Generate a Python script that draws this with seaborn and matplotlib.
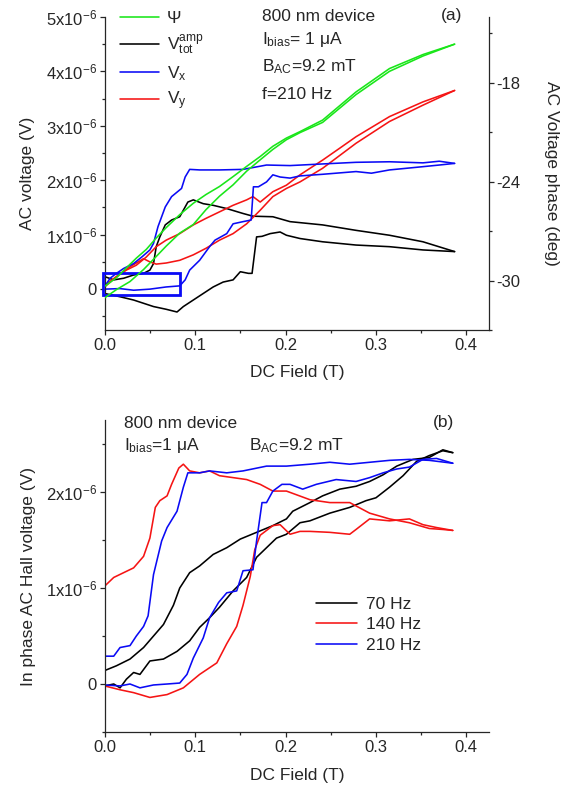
import matplotlib
matplotlib.use("Agg")
import matplotlib.pyplot as plt
import pandas as pd
import seaborn as sns
from matplotlib.lines import Line2D
from matplotlib.patches import Rectangle
from matplotlib.ticker import MultipleLocator, FixedLocator

# ---------------- data, panel (a): 210 Hz, voltages in 1e-6 V ----------------
vx_up_x = [0, 0.017, 0.032, 0.05, 0.068, 0.083, 0.089, 0.094, 0.105, 0.116, 0.122, 0.135, 0.142, 0.153,
           0.162, 0.1645, 0.17, 0.179, 0.186, 0.194, 0.205, 0.216, 0.241, 0.278, 0.295, 0.315, 0.352, 0.37, 0.387]
vx_up_y = [0, 0.01, -0.02, 0, 0.04, 0.06, 0.17, 0.35, 0.53, 0.78, 0.9, 1.02, 1.2, 1.24,
           1.27, 1.88, 1.88, 1.97, 2.1, 2.06, 2.04, 2.08, 2.11, 2.16, 2.13, 2.19, 2.25, 2.28, 2.31]
vx_dn_x = [0, 0.006, 0.013, 0.021, 0.032, 0.041, 0.05, 0.054, 0.059, 0.067, 0.074, 0.085, 0.089, 0.094,
           0.105, 0.127, 0.153, 0.179, 0.205, 0.241, 0.278, 0.315, 0.352, 0.37, 0.387]
vx_dn_y = [0.05, 0.2, 0.29, 0.38, 0.47, 0.59, 0.72, 0.84, 1.15, 1.51, 1.7, 1.85, 2.06, 2.2,
           2.19, 2.19, 2.2, 2.28, 2.27, 2.3, 2.33, 2.34, 2.32, 2.35, 2.31]

vtot_dn_x = [0, 0.01, 0.021, 0.032, 0.043, 0.05, 0.054, 0.057, 0.061, 0.067, 0.074, 0.083, 0.092, 0.098,
             0.109, 0.12, 0.135, 0.153, 0.164, 0.186, 0.205, 0.241, 0.278, 0.315, 0.352, 0.387]
vtot_dn_y = [0.23, 0.17, 0.2, 0.26, 0.29, 0.35, 0.47, 0.78, 0.96, 1.18, 1.27, 1.33, 1.6, 1.64,
             1.57, 1.54, 1.48, 1.39, 1.34, 1.33, 1.24, 1.18, 1.08, 0.99, 0.87, 0.69]
vtot_up_x = [0, 0.017, 0.032, 0.043, 0.054, 0.068, 0.08, 0.087, 0.098, 0.109, 0.12, 0.131, 0.142, 0.15,
             0.159, 0.163, 0.168, 0.174, 0.183, 0.194, 0.201, 0.216, 0.241, 0.278, 0.315, 0.352, 0.387]
vtot_up_y = [-0.08, -0.14, -0.2, -0.26, -0.32, -0.37, -0.42, -0.32, -0.2, -0.08, 0.04, 0.13, 0.17, 0.32,
             0.29, 0.29, 0.96, 0.97, 1.02, 1.05, 0.99, 0.93, 0.87, 0.81, 0.78, 0.72, 0.69]

vy_dn_x = [0, 0.013, 0.024, 0.035, 0.046, 0.057, 0.068, 0.083, 0.098, 0.112, 0.127, 0.142, 0.157, 0.164,
           0.172, 0.186, 0.201, 0.216, 0.241, 0.26, 0.278, 0.315, 0.352, 0.387]
vy_dn_y = [0.07, 0.23, 0.35, 0.44, 0.59, 0.78, 0.9, 1.02, 1.18, 1.3, 1.42, 1.54, 1.64, 1.7,
           1.6, 1.79, 1.91, 2.1, 2.37, 2.59, 2.8, 3.17, 3.44, 3.65]
vy_up_x = [0, 0.013, 0.028, 0.043, 0.05, 0.057, 0.068, 0.083, 0.098, 0.112, 0.127, 0.142, 0.157, 0.172,
           0.186, 0.201, 0.216, 0.241, 0.278, 0.315, 0.352, 0.387]
vy_up_y = [0.04, 0.23, 0.41, 0.56, 0.5, 0.46, 0.48, 0.53, 0.63, 0.75, 0.9, 1.02, 1.2, 1.45,
           1.7, 1.85, 1.97, 2.22, 2.68, 3.08, 3.38, 3.65]

# phase Psi in degrees (right axis)
psi_a_x = [0, 0.013, 0.024, 0.035, 0.046, 0.057, 0.068, 0.083, 0.098, 0.112, 0.127, 0.142, 0.157, 0.172,
           0.186, 0.201, 0.216, 0.241, 0.278, 0.315, 0.352, 0.387]
psi_a_y = [-30.35, -29.83, -29.23, -28.64, -28.11, -27.42, -26.79, -26.0, -25.31, -24.78, -24.29, -23.69,
           -23.07, -22.47, -21.85, -21.35, -20.96, -20.26, -18.55, -17.13, -16.28, -15.65]
psi_b_x = [0, 0.013, 0.028, 0.043, 0.057, 0.068, 0.083, 0.098, 0.112, 0.127, 0.142, 0.157, 0.172, 0.186,
           0.201, 0.216, 0.241, 0.278, 0.315, 0.352, 0.387]
psi_b_y = [-31.05, -30.55, -30.06, -29.33, -28.54, -27.91, -27.12, -26.6, -25.7, -24.88, -24.19, -23.36,
           -22.67, -22.04, -21.45, -21.02, -20.4, -18.71, -17.3, -16.37, -15.65]

# ---------------- data, panel (b): in-phase Hall voltage, 1e-6 V ----------------
h70_dn_x = [0, 0.013, 0.028, 0.043, 0.054, 0.065, 0.076, 0.083, 0.094, 0.105, 0.12, 0.135, 0.15, 0.168,
            0.186, 0.201, 0.208, 0.227, 0.241, 0.26, 0.278, 0.293, 0.308, 0.323, 0.341, 0.359, 0.374, 0.385]
h70_dn_y = [0.14, 0.19, 0.26, 0.38, 0.5, 0.62, 0.82, 1.0, 1.16, 1.23, 1.35, 1.42, 1.51, 1.58,
            1.65, 1.72, 1.8, 1.89, 1.96, 2.03, 2.06, 2.11, 2.18, 2.27, 2.34, 2.36, 2.44, 2.41]
h70_up_x = [0, 0.01, 0.017, 0.024, 0.032, 0.039, 0.05, 0.065, 0.08, 0.094, 0.105, 0.116, 0.127, 0.142,
            0.157, 0.168, 0.179, 0.19, 0.201, 0.216, 0.227, 0.249, 0.271, 0.289, 0.3, 0.315, 0.33, 0.345,
            0.359, 0.374, 0.385]
h70_up_y = [-0.02, 0, -0.04, 0.05, 0.12, 0.1, 0.24, 0.26, 0.34, 0.45, 0.59, 0.69, 0.8, 0.97,
            1.11, 1.32, 1.42, 1.52, 1.56, 1.68, 1.7, 1.78, 1.84, 1.91, 1.94, 2.05, 2.17, 2.32,
            2.38, 2.43, 2.41]

h140_dn_x = [0, 0.01, 0.021, 0.032, 0.043, 0.05, 0.056, 0.061, 0.069, 0.074, 0.082, 0.087, 0.094, 0.105,
             0.116, 0.127, 0.142, 0.157, 0.172, 0.186, 0.201, 0.227, 0.249, 0.271, 0.293, 0.315, 0.337,
             0.359, 0.374, 0.385]
h140_dn_y = [1.02, 1.11, 1.16, 1.21, 1.33, 1.52, 1.84, 1.91, 1.96, 2.08, 2.25, 2.29, 2.22, 2.2,
             2.22, 2.17, 2.15, 2.13, 2.08, 2.01, 2.01, 1.92, 1.89, 1.89, 1.78, 1.72, 1.68,
             1.62, 1.61, 1.6]
h140_up_x = [0, 0.017, 0.032, 0.05, 0.069, 0.087, 0.105, 0.124, 0.135, 0.146, 0.153, 0.161, 0.166, 0.172,
             0.186, 0.194, 0.205, 0.216, 0.227, 0.249, 0.271, 0.278, 0.293, 0.315, 0.337, 0.352, 0.367, 0.385]
h140_up_y = [-0.02, -0.06, -0.09, -0.14, -0.11, -0.04, 0.1, 0.22, 0.42, 0.6, 0.82, 1.12, 1.4, 1.55,
             1.65, 1.66, 1.56, 1.59, 1.59, 1.58, 1.56, 1.61, 1.72, 1.7, 1.72, 1.66, 1.63, 1.6]

h210_dn_x = [0, 0.01, 0.017, 0.028, 0.035, 0.043, 0.048, 0.054, 0.063, 0.069, 0.08, 0.087, 0.092, 0.105,
             0.116, 0.135, 0.153, 0.179, 0.201, 0.227, 0.249, 0.271, 0.293, 0.315, 0.337, 0.359, 0.385]
h210_dn_y = [0.29, 0.29, 0.38, 0.4, 0.5, 0.6, 0.71, 1.14, 1.49, 1.63, 1.8, 2.05, 2.2, 2.2,
             2.22, 2.2, 2.22, 2.27, 2.27, 2.29, 2.31, 2.29, 2.31, 2.33, 2.34, 2.33, 2.3]
h210_up_x = [0, 0.017, 0.028, 0.039, 0.054, 0.069, 0.083, 0.091, 0.098, 0.109, 0.116, 0.126, 0.135, 0.146,
             0.153, 0.164, 0.168, 0.174, 0.179, 0.186, 0.196, 0.205, 0.219, 0.234, 0.256, 0.278, 0.293,
             0.308, 0.323, 0.337, 0.352, 0.367, 0.385]
h210_up_y = [-0.01, -0.02, 0, -0.04, -0.01, 0, 0.01, 0.1, 0.27, 0.48, 0.69, 0.85, 0.95, 0.97,
             1.18, 1.19, 1.49, 1.89, 1.89, 2.01, 2.08, 2.08, 2.03, 2.08, 2.13, 2.11, 2.15,
             2.2, 2.24, 2.26, 2.34, 2.35, 2.3]

GREEN, BLACK, BLUE, RED = "#19e619", "black", "#0a0af5", "#f51414"
LW = 1.15

sns.set_style("ticks")
plt.rcParams["font.family"] = ["Liberation Sans", "DejaVu Sans"]
plt.rcParams.update({
    "mathtext.fontset": "custom",
    "mathtext.rm": "Liberation Sans",
    "mathtext.it": "Liberation Sans:italic",
    "mathtext.bf": "Liberation Sans:bold",
    "axes.unicode_minus": False,
    "axes.linewidth": 0.9,
    "xtick.major.size": 3.5, "ytick.major.size": 3.5,
    "xtick.minor.size": 2.2, "ytick.minor.size": 2.2,
    "xtick.major.width": 0.9, "ytick.major.width": 0.9,
    "xtick.minor.width": 0.9, "ytick.minor.width": 0.9,
    "xtick.major.pad": 2.5, "ytick.major.pad": 2.0,
})
FS = 12.5


def branch(ax, xs, ys, color):
    sns.lineplot(x=xs, y=ys, sort=False, estimator=None, color=color, lw=LW, ax=ax)


def volt_ticks(ax, majors, minors):
    ax.yaxis.set_major_locator(FixedLocator(majors))
    ax.yaxis.set_minor_locator(FixedLocator(minors))
    labels = ["0" if v == 0 else f"{v:g}x10$^{{-6}}$" for v in majors]
    ax.set_yticklabels(labels, fontsize=12)


def field_axis(ax):
    ax.set_xlim(0, 0.425)
    ax.xaxis.set_major_locator(MultipleLocator(0.1))
    ax.xaxis.set_minor_locator(MultipleLocator(0.05))
    ax.set_xticks([0, 0.1, 0.2, 0.3, 0.4])
    ax.set_xticklabels(["0.0", "0.1", "0.2", "0.3", "0.4"], fontsize=12)
    ax.set_xlabel("DC Field (T)", fontsize=FS, va="center")
    ax.xaxis.set_label_coords(0.5, -0.137)


fig = plt.figure(figsize=(5.61, 7.86), dpi=100)

# ---------------- panel (a) ----------------
ax1 = fig.add_axes([0.1866, 0.5802, 0.685, 0.3982])
ax2 = ax1.twinx()

branch(ax1, vtot_dn_x, vtot_dn_y, BLACK)
branch(ax1, vtot_up_x, vtot_up_y, BLACK)
branch(ax1, vy_dn_x, vy_dn_y, RED)
branch(ax1, vy_up_x, vy_up_y, RED)
branch(ax1, vx_dn_x, vx_dn_y, BLUE)
branch(ax1, vx_up_x, vx_up_y, BLUE)
branch(ax2, psi_a_x, psi_a_y, GREEN)
branch(ax2, psi_b_x, psi_b_y, GREEN)

ax1.set_ylim(-0.75, 5.0)
ax2.set_ylim(-33, -14)
field_axis(ax1)
volt_ticks(ax1, [0, 1, 2, 3, 4, 5], [-0.5, 0.5, 1.5, 2.5, 3.5, 4.5])
ax1.set_ylabel("AC voltage (V)", fontsize=FS, va="center")
ax1.yaxis.set_label_coords(-0.2, 0.5)

ax2.yaxis.set_major_locator(FixedLocator([-30, -24, -18]))
ax2.yaxis.set_minor_locator(FixedLocator([-33, -27, -21, -15]))
ax2.set_yticklabels(["-30", "-24", "-18"], fontsize=12)
ax2.set_ylabel("AC Voltage phase (deg)", fontsize=FS, rotation=270, va="center")
ax2.yaxis.set_label_coords(1.163, 0.5)

for s in ["top", "right"]:
    ax1.spines[s].set_visible(False)
for s in ["top", "left", "bottom"]:
    ax2.spines[s].set_visible(False)

ax1.add_patch(Rectangle((-0.0015, -0.11), 0.0847, 0.40, fill=False, ec=BLUE, lw=2.0, clip_on=False, zorder=5))

handles_a = [Line2D([], [], color=c, lw=LW) for c in [GREEN, BLACK, BLUE, RED]]
labels_a = ["Ψ", r"V$_{\rm tot}^{\rm amp}$", r"V$_{\rm x}$", r"V$_{\rm y}$"]
ax1.legend(handles_a, labels_a, loc="upper left", bbox_to_anchor=(0.04, 1.018), frameon=False,
           fontsize=FS, handlelength=2.25, handletextpad=0.45, labelspacing=0.4, borderpad=0,
           borderaxespad=0)

tkw = dict(transform=ax1.transAxes, fontsize=FS, va="baseline", ha="left")
ax1.text(0.409, 0.987, "800 nm device", **tkw)
ax1.text(0.409, 0.913, r"I$_{\rm bias}$= 1 μA", **tkw)
ax1.text(0.409, 0.825, r"B$_{\rm AC}$=9.2 mT", **tkw)
ax1.text(0.409, 0.738, "f=210 Hz", **tkw)
ax1.text(0.875, 0.99, "(a)", **tkw)

# ---------------- panel (b) ----------------
ax3 = fig.add_axes([0.1866, 0.0687, 0.685, 0.3969])
branch(ax3, h70_dn_x, h70_dn_y, BLACK)
branch(ax3, h70_up_x, h70_up_y, BLACK)
branch(ax3, h140_dn_x, h140_dn_y, RED)
branch(ax3, h140_up_x, h140_up_y, RED)
branch(ax3, h210_dn_x, h210_dn_y, BLUE)
branch(ax3, h210_up_x, h210_up_y, BLUE)

ax3.set_ylim(-0.5, 2.75)
field_axis(ax3)
ax3.xaxis.set_label_coords(0.5, -0.138)
volt_ticks(ax3, [0, 1, 2], [-0.5, 0.5, 1.5, 2.5])
ax3.set_ylabel("In phase AC Hall voltage (V)", fontsize=FS, va="center")
ax3.yaxis.set_label_coords(-0.198, 0.5)
sns.despine(ax=ax3)

handles_b = [Line2D([], [], color=c, lw=LW) for c in [BLACK, RED, BLUE]]
ax3.legend(handles_b, ["70 Hz", "140 Hz", "210 Hz"], loc="upper left", bbox_to_anchor=(0.55, 0.434),
           frameon=False, fontsize=FS, handlelength=2.35, handletextpad=0.5, labelspacing=0.32,
           borderpad=0, borderaxespad=0)

tkw = dict(transform=ax3.transAxes, fontsize=FS, va="baseline", ha="left")
ax3.text(0.05, 0.973, "800 nm device", **tkw)
ax3.text(0.05, 0.904, r"I$_{\rm bias}$=1 μA", **tkw)
ax3.text(0.376, 0.904, r"B$_{\rm AC}$=9.2 mT", **tkw)
ax3.text(0.853, 0.978, "(b)", **tkw)

fig.savefig("out.png", dpi=100)
